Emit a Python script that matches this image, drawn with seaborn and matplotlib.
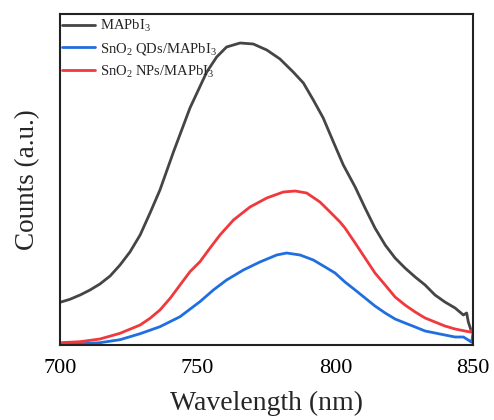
import numpy as np
import pandas as pd
import matplotlib
matplotlib.use("Agg")
import matplotlib.pyplot as plt
import seaborn as sns

# Wavelength (nm) and counts (a.u.)
wl_mapbi = [700, 703.6, 707.3, 710.9, 714.5, 718.2, 721.8, 725.4, 729.1, 732.7, 736.3, 741.2, 747.2,
            753.3, 756.9, 760.5, 765.4, 770.2, 775.1, 779.9, 784.7, 788.4, 792, 795.6, 799.3, 802.9,
            807.2, 810.8, 814.4, 818.1, 821.7, 825.3, 829, 832.6, 836.2, 839.8, 843.5, 846.5, 847.7,
            848.3, 849.5]
c_mapbi = [42.7, 45.7, 50, 55, 61, 69, 80, 93, 110, 132, 155, 193, 237,
           273, 288, 298, 302, 301, 295, 286, 273, 262, 245, 227, 203, 180,
           158, 137, 117, 100, 87, 77, 68, 60, 50, 43, 37, 30, 32,
           23, 13]

wl_qds = [700, 707.3, 714.5, 721.8, 729.1, 736.3, 743.6, 750.9, 755.7, 760.5, 766.6, 772.6, 778.7,
          782.3, 787.2, 792, 796.9, 799.9, 803.5, 807.2, 810.8, 814.4, 818.1, 821.7, 825.3, 829,
          832.6, 836.2, 839.8, 843.5, 846.5, 848.3, 849.5, 850]
c_qds = [0.3, 1.2, 2.3, 5.3, 11.3, 18.3, 28.3, 43.5, 55, 65, 75, 83, 90,
         92, 90, 85, 77, 72, 63, 55, 47, 39, 32, 26, 22, 18,
         14, 12, 10, 8, 8, 5, 2.7, 12]

wl_nps = [700, 707.3, 714.5, 721.8, 729.1, 732.7, 736.3, 740, 743.6, 747.2, 750.9, 754.5, 758.1,
          763, 769, 775.1, 781.1, 785.4, 789.6, 794.4, 798.1, 801.7, 803.5, 807.2, 810.8, 814.4,
          818.1, 821.7, 825.3, 829, 832.6, 836.2, 839.8, 843.5, 847.1, 849, 850]
c_nps = [2.3, 3.3, 6, 11.7, 20, 26.7, 35, 46.7, 60, 73.3, 83.5, 97, 110,
         125, 138, 147, 153, 154, 152, 143, 133, 123, 117, 102, 87, 72,
         60, 48, 40, 33, 27, 23, 19, 16, 14, 13, 16]

labels = ["MAPbI$_3$", "SnO$_2$ QDs/MAPbI$_3$", "SnO$_2$ NPs/MAPbI$_3$"]
colors = ["#454545", "#1f6fe0", "#f0393c"]
xticks = [700, 750, 800, 850]

frames = []
for lab, wl, c in zip(labels, [wl_mapbi, wl_qds, wl_nps], [c_mapbi, c_qds, c_nps]):
    frames.append(pd.DataFrame({"wl": wl, "counts": c, "sample": lab}))
df = pd.concat(frames, ignore_index=True)

sns.set_theme(style="white")
plt.rcParams["font.family"] = ["Liberation Serif", "DejaVu Serif"]
plt.rcParams["mathtext.fontset"] = "custom"
plt.rcParams["mathtext.rm"] = "Liberation Serif"
plt.rcParams["mathtext.it"] = "Liberation Serif:italic"

fig = plt.figure(figsize=(4.94, 4.20), dpi=100)
ax = fig.add_axes([60 / 494, 75 / 420, 413 / 494, 331 / 420])

sns.lineplot(data=df, x="wl", y="counts", hue="sample", hue_order=labels,
             palette=colors, linewidth=2, ax=ax, sort=True, estimator=None)

ax.set_xlim(700, 850)
ax.set_ylim(0, 331)
ax.set_xticks(xticks)
ax.set_xticklabels([str(t) for t in xticks])
ax.set_yticks([])
ax.tick_params(axis="x", direction="in", length=5, width=1.3, labelsize=16, pad=10, colors="black")
for sp in ax.spines.values():
    sp.set_linewidth(1.5)
    sp.set_color("#222222")
ax.set_xlabel("Wavelength (nm)", fontsize=20, labelpad=9)
ax.set_ylabel("Counts (a.u.)", fontsize=19.5, labelpad=14)

leg = ax.legend(loc="upper left", frameon=False, fontsize=10.5, handlelength=2.3,
                handletextpad=0.3, borderaxespad=0.0, labelspacing=0.45,
                bbox_to_anchor=(-0.01, 1.005))
for line in leg.get_lines():
    line.set_linewidth(2)

fig.savefig("out.png", dpi=100)
